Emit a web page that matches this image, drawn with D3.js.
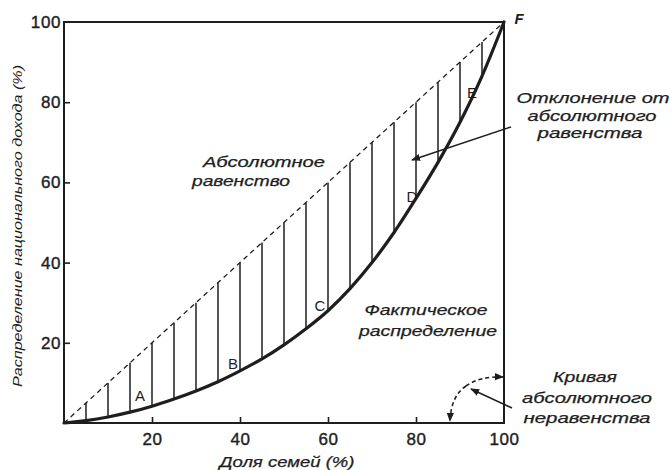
<!DOCTYPE html>
<html><head><meta charset="utf-8">
<script src="https://cdn.jsdelivr.net/npm/d3@7/dist/d3.min.js"></script>
<style>
html,body{margin:0;padding:0;background:#fff;}
svg{display:block;}
text{font-family:"Liberation Sans",Arial,sans-serif;fill:#1e1e1e;}
</style></head>
<body>
<svg id="c" width="672" height="470"></svg>
<script>
// ---- data ----
const familyShare = [0,5,10,15,20,25,30,35,40,45,50,55,60,65,70,75,80,85,90,95,100];
const incomeShare = [0,0.6,1.5,2.7,4.2,6,8,10.3,13,16,19.5,23.5,28,33.5,40,47.5,56,65,75,86.5,100];
const hatchAt = [5,10,15,20,25,30,35,40,45,50,55,60,65,70,75,80,85,90,95];
const xTicks = [20,40,60,80,100];
const yTicks = [20,40,60,80,100];
const xTitle = "Доля семей (%)";
const yTitle = "Распределение национального дохода (%)";
const pointLetters = ["A","B","C","D","E","F"];

const svg = d3.select("#c");
const x = d3.scaleLinear().domain([0,100]).range([64,504]);
const y = d3.scaleLinear().domain([0,100]).range([423,22]);
const ink = "#1e1e1e";

// defs: arrowhead
const defs = svg.append("defs");
defs.append("marker").attr("id","ah").attr("viewBox","0 0 10 10")
  .attr("refX",9).attr("refY",5).attr("markerWidth",9).attr("markerHeight",9)
  .attr("markerUnits","userSpaceOnUse").attr("orient","auto")
  .append("path").attr("d","M0,1 L10,5 L0,9 Z").attr("fill",ink);

// frame
svg.append("rect").attr("x",x(0)).attr("y",y(100))
  .attr("width",x(100)-x(0)).attr("height",y(0)-y(100))
  .attr("fill","none").attr("stroke",ink).attr("stroke-width",2);

// axes
const gx = svg.append("g").attr("transform",`translate(0,${y(0)})`)
  .call(d3.axisBottom(x).tickValues(xTicks).tickSize(-6).tickPadding(10).tickFormat(d3.format("d")));
const gy = svg.append("g").attr("transform",`translate(${x(0)},0)`)
  .call(d3.axisLeft(y).tickValues(yTicks).tickSize(-6).tickPadding(3).tickFormat(d3.format("d")));
[gx,gy].forEach(g=>{
  g.select(".domain").remove();
  g.selectAll("line").attr("stroke",ink).attr("stroke-width",1.6);
  g.selectAll("text").attr("font-size",17).attr("font-family","Liberation Sans, Arial, sans-serif")
   .attr("fill",ink).attr("stroke",ink).attr("stroke-width",0.4).attr("letter-spacing","0.6px");
});
gx.selectAll(".tick").filter(d=>d===100).select("line").remove();
gy.selectAll(".tick").filter(d=>d===100).select("line").remove();

// absolute equality (dashed diagonal)
svg.append("line").attr("x1",x(0)).attr("y1",y(0)).attr("x2",x(100)).attr("y2",y(100))
  .attr("stroke",ink).attr("stroke-width",1.3).attr("stroke-dasharray","5,4");

// hatching
const curveVal = d3.scaleLinear().domain(familyShare).range(incomeShare);
svg.append("g").selectAll("line").data(hatchAt).join("line")
  .attr("x1",d=>x(d)).attr("x2",d=>x(d))
  .attr("y1",d=>y(d)).attr("y2",d=>y(curveVal(d)))
  .attr("stroke",ink).attr("stroke-width",1.5);

// Lorenz curve
const pts = familyShare.map((f,i)=>[f,incomeShare[i]]);
svg.append("path").datum(pts)
  .attr("d",d3.line().x(d=>x(d[0])).y(d=>y(d[1])).curve(d3.curveMonotoneX))
  .attr("fill","none").attr("stroke",ink).attr("stroke-width",3.2).attr("stroke-linecap","round");

// point letters
const letterPos = [[140,395],[233,363],[320,305],[412,196],[472,92],[519,18]];
svg.append("g").selectAll("text").data(pointLetters).join("text")
  .attr("x",(d,i)=>letterPos[i][0]).attr("y",(d,i)=>letterPos[i][1])
  .attr("text-anchor","middle").attr("dominant-baseline","central")
  .attr("font-size",15).attr("font-style",(d)=>d==="F"?"italic":"normal")
  .attr("font-weight",d=>d==="F"?"bold":"normal")
  .text(d=>d);

// multi-line labels
function label(lines, cx, cy, lh, widths, anchor){
  const t = svg.append("text").attr("font-size",14).attr("font-style","italic")
    .attr("text-anchor",anchor||"middle").attr("stroke",ink).attr("stroke-width",0.25);
  lines.forEach((s,i)=>{
    const ts = t.append("tspan").attr("x",cx[i]).attr("y",cy+i*lh).attr("dominant-baseline","central").text(s);
    if(widths) ts.attr("textLength",widths[i]).attr("lengthAdjust","spacingAndGlyphs");
  });
}
label(["Абсолютное","равенство"],[203,192],162,19,[122,98],"start");
label(["Фактическое","распределение"],[426,428],310,21,[123,138]);
label(["Отклонение от","абсолютного","равенства"],[593,592,590],98,17.5,[153,129,105]);
label(["Кривая","абсолютного","неравенства"],[585,587,587],377,20.5,[64,130,127]);

// axis titles
svg.append("text").attr("x",287).attr("y",462).attr("text-anchor","middle")
  .attr("dominant-baseline","central").attr("font-size",14).attr("font-style","italic")
  .attr("stroke",ink).attr("stroke-width",0.25)
  .attr("textLength",135).attr("lengthAdjust","spacingAndGlyphs").text(xTitle);
svg.append("text").attr("transform","translate(17,226) rotate(-90)").attr("text-anchor","middle")
  .attr("dominant-baseline","central").attr("font-size",13.5).attr("font-style","italic")
  .attr("textLength",322).attr("lengthAdjust","spacingAndGlyphs").text(yTitle);

// arrows
svg.append("line").attr("x1",511).attr("y1",127).attr("x2",412).attr("y2",160)
  .attr("stroke",ink).attr("stroke-width",1.5).attr("marker-end","url(#ah)");
svg.append("line").attr("x1",512).attr("y1",408).attr("x2",471).attr("y2",389)
  .attr("stroke",ink).attr("stroke-width",1.5).attr("marker-end","url(#ah)");
svg.append("path").attr("d","M466,386 Q451,396 450,421")
  .attr("fill","none").attr("stroke",ink).attr("stroke-width",1.6).attr("stroke-dasharray","4,3")
  .attr("marker-end","url(#ah)");
svg.append("path").attr("d","M466,386 Q480,376 503,377")
  .attr("fill","none").attr("stroke",ink).attr("stroke-width",1.6).attr("stroke-dasharray","4,3")
  .attr("marker-end","url(#ah)");
</script>
</body></html>
